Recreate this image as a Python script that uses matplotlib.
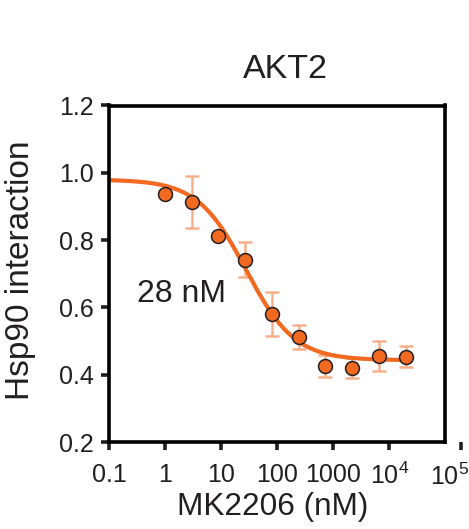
import numpy as np
import matplotlib
matplotlib.use("Agg")
import matplotlib.pyplot as plt

# ── Style ─────────────────────────────────────────────────────────────────────
plt.rcParams.update({
    "font.family":       ["Liberation Sans", "DejaVu Sans"],
    "mathtext.fontset":  "custom",
    "mathtext.rm":       "Liberation Sans",
    "text.color":        "#231f20",
    "axes.labelcolor":   "#231f20",
    "xtick.color":       "#231f20",
    "ytick.color":       "#231f20",
})

ORANGE     = "#f26a21"
ERR_COLOUR = "#f7b08c"

# ── Data (MK2206 titration, 3-fold dilutions) ─────────────────────────────────
conc_nM   = [1, 3, 9, 27, 81, 243, 729, 2187, 6561, 19683]
signal    = [0.937, 0.913, 0.812, 0.741, 0.580, 0.512, 0.426, 0.420, 0.456, 0.453]
signal_sd = [0.010, 0.078, 0.010, 0.052, 0.065, 0.036, 0.034, 0.030, 0.045, 0.031]

# fitted 4-parameter logistic
fit_top, fit_bottom, fit_ic50, fit_hill = 0.98, 0.443, 28.0, 1.0

x_ticks       = [0.1, 1, 10, 100, 1000, 1e4, 10 ** 5.28]
x_tick_labels = ["0.1", "1", "10", "100", "1000", r"$\mathregular{10^4}$", ""]
x_last_label  = r"$\mathregular{10^5}$"
y_ticks       = [0.2, 0.4, 0.6, 0.8, 1.0, 1.2]

# ── Figure ────────────────────────────────────────────────────────────────────
fig = plt.figure(figsize=(4.69, 5.29), dpi=100, facecolor="white")
ax = fig.add_axes([109 / 469, 1 - 442 / 529, (462 - 109) / 469, (442 - 105.5) / 529])

xs = np.logspace(-1, np.log10(2e4), 300)
fit = fit_bottom + (fit_top - fit_bottom) / (1 + (xs / fit_ic50) ** fit_hill)
ax.plot(xs, fit, color=ORANGE, lw=3.0, zorder=2, solid_capstyle="butt")

ax.errorbar(conc_nM, signal, yerr=signal_sd, fmt="none",
            ecolor=ERR_COLOUR, elinewidth=1.8, capsize=5, capthick=1.8, zorder=1)
ax.plot(conc_nM, signal, "o", ms=10, mfc=ORANGE, mec="#231f20", mew=1.1,
        zorder=3, clip_on=False)

ax.set_xscale("log")
ax.set_xlim(0.1, 10 ** 5.3)
ax.set_ylim(0.2, 1.2)

# box ends at 10^5; 10^5 tick sits detached to the right
for side in ("top", "bottom"):
    ax.spines[side].set_bounds(0.1, 1e5)
ax.spines["right"].set_position(("data", 1e5))
for s in ax.spines.values():
    s.set_linewidth(2.6)

ax.set_xticks(x_ticks)
ax.set_xticklabels(x_tick_labels)
ax.xaxis.set_minor_locator(matplotlib.ticker.NullLocator())
ax.set_yticks(y_ticks)
ax.set_yticklabels([f"{v:.1f}" for v in y_ticks])
ax.tick_params(axis="both", direction="out", length=6, width=2.6, labelsize=18)
ax.tick_params(axis="x", pad=9)
ax.tick_params(axis="y", pad=5)

# detached 10^5 label, pulled left so it stays inside the figure
ax.annotate(x_last_label, xy=(x_ticks[-1], 0), xycoords=ax.get_xaxis_transform(),
            xytext=(-8, -15.5), textcoords="offset points",
            ha="center", va="top", fontsize=18, annotation_clip=False)

ax.set_xlabel("MK2206 (nM)", fontsize=22.7)
ax.xaxis.set_label_coords((273 - 109) / 353, -0.15)
ax.set_ylabel("Hsp90 interaction", fontsize=24)
ax.yaxis.set_label_coords((36 - 109) / 353, (442 - 270) / 336.5)
ax.set_title("AKT2", fontsize=24.5, pad=19.5)

ax.text(0.32, 0.616, "28 nM", fontsize=23, ha="left", va="baseline")

fig.savefig("out.png", dpi=100, facecolor="white")
